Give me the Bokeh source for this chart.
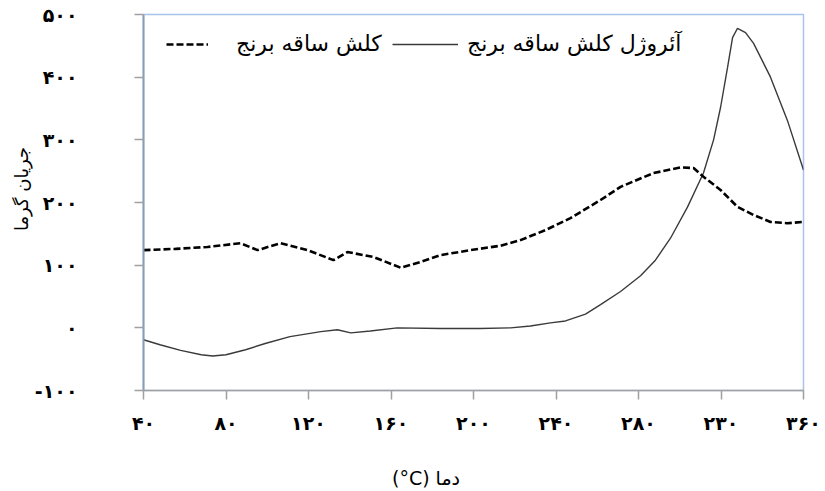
from bokeh.plotting import figure
from bokeh.models import Legend, LegendItem, FixedTicker, Range1d
from bokeh.embed import file_html
from bokeh.resources import INLINE

# Aerogel of rice straw (solid line)
temp_aerogel = [40, 48, 58, 68, 73.5, 80, 89.5, 99, 111, 126, 134, 140.5, 150, 163, 184,
                203, 218, 227.6, 237.3, 244.6, 254.3, 261.6, 271.3, 281, 288.2, 295.5,
                303.8, 311.5, 316.4, 319.8, 323.2, 325.6, 328, 331.9, 335.8, 344, 352.2, 360]
heat_aerogel = [-19, -27, -36, -43, -45, -43, -35, -25, -14, -6, -3, -8, -5, 0, -1,
                -1, 0, 3, 8, 11, 22, 37, 58, 83, 108, 143,
                193, 247, 300, 352, 416, 463, 478, 471, 454, 400, 331, 252]

# Rice straw (dashed line)
temp_straw = [40, 55.5, 71, 87, 95.3, 106.4, 119.5, 132.1, 138.9, 151.5, 164.6, 174.3, 184,
              198.5, 213.1, 222.8, 234.9, 247, 261.6, 271.3, 287.3, 300.4, 306.7, 311.5,
              319.8, 328, 335.8, 344, 352.2, 360]
heat_straw = [124, 126, 129, 135, 124, 135, 124, 108, 121, 113, 96, 105, 116,
              124, 131, 140, 156, 175, 204, 225, 247, 256, 255, 241,
              220, 193, 180, 169, 167, 169]

x_ticks = [40, 80, 120, 160, 200, 240, 280, 320, 360]
x_tick_labels = ["۴۰", "۸۰", "۱۲۰", "۱۶۰", "۲۰۰", "۲۴۰", "۲۸۰", "۲۳۰", "۳۶۰"]
y_ticks = [-100, 0, 100, 200, 300, 400, 500]
y_tick_labels = ["-۱۰۰", "۰", "۱۰۰", "۲۰۰", "۳۰۰", "۴۰۰", "۵۰۰"]

label_solid = "آئروژل کلش ساقه برنج"
label_dashed = "کلش ساقه برنج"
x_title = "(°C) دما"
y_title = "جریان گرما"

FONT = "DejaVu Sans"

p = figure(width=825, height=491, output_backend="svg", toolbar_location=None,
           x_range=Range1d(40, 360), y_range=Range1d(-100, 500),
           min_border_left=143, min_border_right=22, min_border_top=14, min_border_bottom=100)

p.background_fill_color = "white"
p.border_fill_color = "white"
p.outline_line_color = "#A9C4E8"
p.outline_line_width = 1.5
p.xgrid.visible = False
p.ygrid.visible = False

r_solid = p.line(temp_aerogel, heat_aerogel, line_color="#3a3a3a", line_width=1.4)
r_dash = p.line(temp_straw, heat_straw, line_color="black", line_width=2.6, line_dash="7 3")

for ax in (p.xaxis[0], p.yaxis[0]):
    ax.major_label_text_font = FONT
    ax.major_label_text_font_style = "bold"
    ax.major_label_text_font_size = "19px"
    ax.major_label_text_color = "black"
    ax.minor_tick_line_color = None
    ax.major_tick_in = 0
    ax.major_tick_out = 9
    ax.axis_label_text_font = FONT
    ax.axis_label_text_font_style = "normal"
    ax.axis_label_text_color = "black"

p.xaxis[0].ticker = FixedTicker(ticks=x_ticks)
p.xaxis[0].major_label_overrides = {t: l for t, l in zip(x_ticks, x_tick_labels)}
p.xaxis[0].axis_line_color = "#A0A0A0"
p.xaxis[0].major_tick_line_color = "#A0A0A0"
p.xaxis[0].axis_line_width = 1.5
p.xaxis[0].major_tick_line_width = 1.5
p.xaxis[0].major_label_standoff = 12
# em spaces after the title shift its visible part left of the frame centre, as in the original
p.xaxis[0].axis_label = x_title + "\u2003" * 5
p.xaxis[0].axis_label_text_font_size = "19px"
p.xaxis[0].axis_label_standoff = 30

p.yaxis[0].ticker = FixedTicker(ticks=y_ticks)
p.yaxis[0].major_label_overrides = {t: l for t, l in zip(y_ticks, y_tick_labels)}
p.yaxis[0].axis_line_color = "#8A9DB8"
p.yaxis[0].major_tick_line_color = "#A0A0A0"
p.yaxis[0].axis_line_width = 2
p.yaxis[0].major_tick_line_width = 1.5
p.yaxis[0].major_label_standoff = 57
p.yaxis[0].axis_label = "\u2002" * 3 + y_title
p.yaxis[0].axis_label_text_font_size = "18px"
p.yaxis[0].axis_label_standoff = 0

common = dict(orientation="horizontal", border_line_color=None, background_fill_alpha=0,
              padding=0, margin=0, label_text_font=FONT, label_text_font_size="22px",
              label_text_color="black", label_height=24, glyph_height=24)
leg1 = Legend(items=[LegendItem(label=label_dashed, renderers=[r_dash])],
              location=(23, 334), glyph_width=42, label_standoff=28, **common)
leg2 = Legend(items=[LegendItem(label=label_solid, renderers=[r_solid])],
              location=(249, 334), glyph_width=66, label_standoff=9, **common)
p.add_layout(leg1)
p.add_layout(leg2)

open("out.html", "w").write(file_html(p, INLINE))
